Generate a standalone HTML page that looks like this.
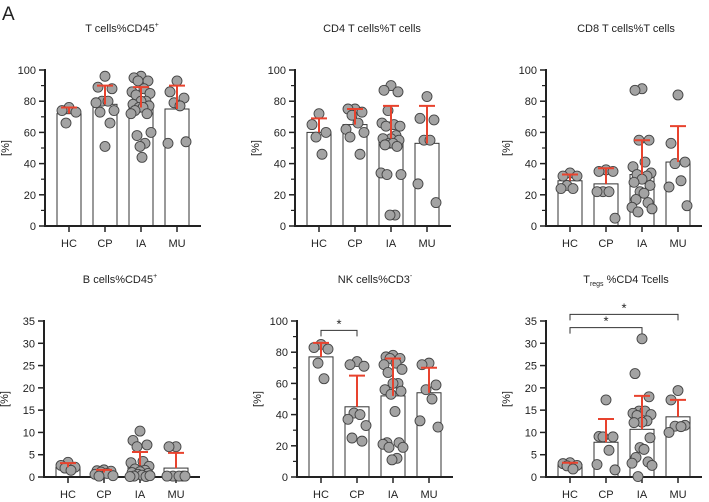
<!DOCTYPE html>
<html><head><meta charset="utf-8"><style>
html,body{margin:0;padding:0;background:#fff;}
svg{display:block;font-family:"Liberation Sans",Arial,sans-serif;}
</style></head><body>
<svg id="fig" width="709" height="502" viewBox="0 0 709 502">
<text x="2" y="20" font-size="19" fill="#222">A</text>
</svg>
<script>
const categories = ["HC","CP","IA","MU"];
const titles = ["T cells%CD45","CD4 T cells%T cells","CD8 T cells%T cells","B cells%CD45","NK cells%CD3","T_regs %CD4 Tcells"];
const yMaxes = [100,100,100,35,100,35];
const tickSteps = [20,20,20,5,20,5];
const barMeans = [
 [72,78,76,75],[60,65,56,53],[29,27,33,41],[2.2,1.0,2.6,2.0],[77,45,52,54],[2.8,7.8,10.7,13.5]];
const errTops = [
 [76,90,89,90],[69,75,77,77],[33,37,55,64],[3.1,1.6,5.6,5.4],[86,65,76,70],[3.2,13,18.2,17.3]];
const pointsP1 = [[76,74,73,66],[96,89,88,80,80,79,74,73,66,51],[96,95,93,93,88,86,85,84,80,80,78,77,76,76,74,72,72,60,58,53,51,44],[93,86,82,79,77,53,54]];
const pointsP2 = [[72,65,60,57,46],[75,75,73,71,66,62,60,57,46],[90,87,86,74,65,66,64,64,58,56,56,55,53,53,52,51,34,33,33,7,7],[83,69,68,55,55,27,15]];
const pointsP3 = [[34,32,32,26,24,24],[36,35,35,22,22,22,5],[88,87,55,55,41,38,34,33,32,30,28,26,22,21,17,15,12,11,9],[84,53,41,40,29,25,13]];
const pointsP4 = [[3.3,2.6,2.2,2,1.5],[1.6,1.4,1.3,1.1,0.8,0.6,0.3,0.2],[10.3,8.2,7.2,6.8,3.5,3.2,2.4,1.8,1.5,1.2,1.0,0.8,0.6,0.4,0.2,0.1,0.1,0.3],[6.8,6.8,0.2,0.2,0.2,0.2,0.2]];
const pointsP5 = [[85,83,82,73,63],[74,72,71,41,40,37,33,25,23],[78,77,76,76,73,72,69,67,60,60,56,55,53,42,22,22,21,19,19,12,11],[73,72,59,56,50,36,32]];
const pointsP6 = [[3.2,3,2.6,2.5,1.8],[17.3,9.1,9,9,6,2.8,1.6],[31,23.2,18,14.8,14.8,14.3,14,13.8,12.6,12.3,12.2,8.8,6.6,6.2,4.4,3.4,3.1,2.6,0.1],[19.4,17.3,11.6,11.4,11.3,10]];
const allPoints = [pointsP1,pointsP2,pointsP3,pointsP4,pointsP5,pointsP6];
const sigBrackets = [[],[],[],[],[[0,1,94]],[[0,2,33.5],[0,3,36.5]]];

const NS="http://www.w3.org/2000/svg";
const svg=document.getElementById('fig');
function mk(tag,attrs,parent){const e=document.createElementNS(NS,tag);for(const k in attrs)e.setAttribute(k,attrs[k]);(parent||svg).appendChild(e);return e;}
const layout=[{ax:45,y0:226,y1:70,tx:122,ty:32},{ax:295,y0:226,y1:70,tx:372,ty:32},{ax:546,y0:226,y1:70,tx:626,ty:32},
 {ax:44,y0:477,y1:321,tx:120,ty:283},{ax:297,y0:477,y1:321,tx:375,ty:283},{ax:546,y0:477,y1:321,tx:626,ty:283}];
const jit=[0,-7,7,-3,3,-9,9,-5,5,0,-8,8,-2,2,-6,6,-10,10,-4,4,-1,1];
layout.forEach((L,p)=>{
 const g=mk('g',{});
 
 
 const ymax=yMaxes[p];
 const Y=v=>L.y0-(v/ymax)*(L.y0-L.y1);
 const X=i=>L.ax+24+i*36;
 const t=mk('text',{x:L.tx,y:L.ty,'font-size':11,'text-anchor':'middle',fill:'#222'},g);
 
 
 const tt=titles[p];
 if(tt.startsWith('T_regs')){t.textContent='T';const s=mk('tspan',{'font-size':7,dy:3},t);s.textContent='regs';const s2=mk('tspan',{dy:-3},t);s2.textContent=' %CD4 Tcells';}
 else{t.textContent=tt;const s=mk('tspan',{'font-size':7,dy:-5},t);s.textContent=(p==4?'-':'+');if(p==1||p==2)s.remove();}
 categories.forEach((c,i)=>{
  const b=mk('rect',{x:X(i)-12,y:Y(barMeans[p][i]),width:24,height:L.y0-Y(barMeans[p][i]),fill:'#fff',stroke:'#333','stroke-width':1},g);
  
  
 });
 mk('line',{x1:L.ax,y1:L.y1-1,x2:L.ax,y2:L.y0+1,stroke:'#222','stroke-width':2},g);
 mk('line',{x1:L.ax-1,y1:L.y0,x2:L.ax+156,y2:L.y0,stroke:'#222','stroke-width':2},g);
 const step=tickSteps[p];
 for(let v=0;v<=ymax+0.001;v+=step){
  mk('line',{x1:L.ax-6,y1:Y(v),x2:L.ax,y2:Y(v),stroke:'#222','stroke-width':1.5},g);
  const tl=mk('text',{x:L.ax-9,y:Y(v)+4,'font-size':11,'text-anchor':'end',fill:'#222'},g);
  tl.textContent=v;
  
  
  if(v+step/2<=ymax && ymax==100) mk('line',{x1:L.ax-4,y1:Y(v+step/2),x2:L.ax,y2:Y(v+step/2),stroke:'#222','stroke-width':1.2},g);
 }
 const yl=mk('text',{x:0,y:0,'font-size':11,'text-anchor':'middle',fill:'#222',transform:`translate(${L.ax-36},${(L.y0+L.y1)/2}) rotate(-90)`},g);
 yl.textContent='[%]';
 
 
 categories.forEach((c,i)=>{
  mk('line',{x1:X(i),y1:L.y0,x2:X(i),y2:L.y0+6,stroke:'#222','stroke-width':1.5},g);
  const xl=mk('text',{x:X(i),y:L.y0+21,'font-size':11,'text-anchor':'middle',fill:'#222'},g);
  xl.textContent=c;
  
  
 });
 allPoints[p].forEach((arr,i)=>{arr.forEach((v,k)=>{
  const d=mk('circle',{cx:X(i)+jit[k%jit.length],cy:Y(v),r:5,fill:'#a3a3a3',stroke:'#444','stroke-width':0.9},g);
  
  
 });});
 categories.forEach((c,i)=>{
  const e=mk('path',{d:`M${X(i)},${Y(barMeans[p][i])}V${Y(errTops[p][i])}M${X(i)-8},${Y(errTops[p][i])}H${X(i)+8}`,stroke:'#e8432e','stroke-width':2,fill:'none'},g);
  
  
 });
 sigBrackets[p].forEach(([a,b,v])=>{
  const y=Y(v);
  const br=mk('path',{d:`M${X(a)},${y+6}V${y}H${X(b)}V${y+6}`,stroke:'#333','stroke-width':1,fill:'none'},g);
  
  
  const st=mk('text',{x:(X(a)+X(b))/2,y:y-2,'font-size':13,'text-anchor':'middle',fill:'#222'},g);
  st.textContent='*';
  
  
 });
});
</script>
</body></html>
